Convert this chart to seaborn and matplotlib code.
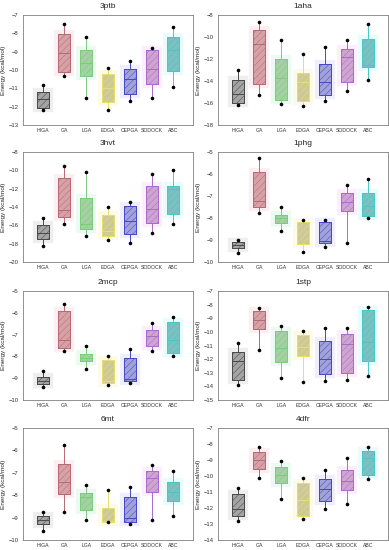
import numpy as np
import pandas as pd
import matplotlib
matplotlib.use("Agg")
import matplotlib.pyplot as plt
import matplotlib.patheffects as pe
import seaborn as sns

sns.set_style("white")
plt.rcParams["font.family"] = ["Liberation Sans", "DejaVu Sans"]
plt.rcParams["hatch.linewidth"] = 0.35

methods = ["HIGA", "GA", "LGA", "EDGA", "CEPGA", "SODOCK", "ABC"]

# ---- 3ptb ----
q1_3ptb = [-12.05, -10.1, -10.3, -11.75, -11.3, -10.75, -10.05]
med_3ptb = [-11.6, -9.05, -9.6, -11.0, -10.5, -9.95, -8.9]
q3_3ptb = [-11.2, -8.05, -8.9, -10.2, -9.95, -8.9, -8.2]
lo_3ptb = [-12.2, -10.3, -11.5, -12.2, -11.7, -11.55, -10.95]
hi_3ptb = [-10.8, -7.5, -8.2, -9.9, -9.5, -8.8, -7.65]

# ---- 1aha ----
q1_1aha = [-16.0, -14.3, -15.7, -15.8, -15.25, -14.05, -12.7]
med_1aha = [-15.2, -10.65, -13.75, -14.1, -14.1, -11.85, -12.55]
q3_1aha = [-13.9, -9.4, -12.0, -13.3, -12.45, -11.1, -10.2]
lo_1aha = [-16.2, -15.25, -16.1, -16.3, -15.8, -14.95, -13.95]
hi_1aha = [-13.0, -8.65, -10.25, -11.5, -10.95, -10.25, -8.85]

# ---- 3hvt ----
q1_3hvt = [-17.45, -15.05, -16.4, -17.15, -16.9, -15.7, -14.75]
med_3hvt = [-16.8, -14.3, -15.8, -16.6, -15.5, -14.2, -12.0]
q3_3hvt = [-15.95, -10.8, -13.0, -14.9, -13.85, -11.7, -11.7]
lo_3hvt = [-18.2, -15.8, -17.2, -17.55, -17.9, -16.8, -15.9]
hi_3hvt = [-15.2, -9.5, -10.15, -14.0, -13.45, -10.4, -9.95]

# ---- 1phg ----
q1_1phg = [-9.38, -7.5, -8.21, -9.2, -9.15, -7.68, -7.9]
med_1phg = [-9.24, -7.23, -8.02, -9.18, -9.05, -7.27, -7.45]
q3_1phg = [-9.08, -5.89, -7.88, -8.18, -8.17, -6.85, -6.85]
lo_1phg = [-9.58, -7.79, -8.59, -9.53, -9.33, -9.14, -7.98]
hi_1phg = [-9.0, -5.27, -7.52, -8.09, -8.09, -6.5, -6.24]

# ---- 2mcp ----
q1_2mcp = [-9.28, -7.6, -8.22, -9.24, -9.13, -7.53, -7.84]
med_2mcp = [-9.13, -7.26, -8.06, -9.15, -9.05, -7.07, -7.23]
q3_2mcp = [-8.96, -5.91, -7.91, -8.17, -8.06, -6.8, -6.42]
lo_2mcp = [-9.39, -7.77, -8.6, -9.31, -9.24, -7.74, -7.99]
hi_2mcp = [-8.66, -5.58, -7.53, -8.0, -7.68, -6.49, -6.19]

# ---- 1stp ----
q1_1stp = [-13.54, -9.76, -12.2, -11.78, -13.12, -13.05, -12.17]
med_1stp = [-12.12, -9.15, -11.22, -11.1, -12.02, -10.9, -10.73]
q3_1stp = [-11.46, -8.46, -9.93, -10.24, -10.66, -10.17, -8.41]
lo_1stp = [-13.93, -11.34, -13.37, -13.68, -13.58, -13.54, -13.24]
hi_1stp = [-10.8, -8.22, -9.59, -9.9, -9.68, -9.68, -8.17]

# ---- 6mt ----
q1_6mt = [-9.3, -7.96, -8.66, -9.18, -9.18, -7.84, -8.28]
med_6mt = [-9.1, -7.42, -8.1, -9.15, -9.03, -7.22, -7.87]
q3_6mt = [-8.93, -6.6, -7.91, -8.55, -8.06, -6.9, -7.39]
lo_6mt = [-9.6, -8.76, -9.12, -9.18, -9.28, -9.1, -8.93]
hi_6mt = [-8.73, -5.78, -7.54, -7.76, -7.63, -6.67, -6.91]

# ---- 4dfr ----
q1_4dfr = [-12.49, -9.57, -10.44, -12.49, -11.59, -10.88, -9.92]
med_4dfr = [-12.07, -8.98, -9.96, -11.49, -10.82, -10.3, -8.88]
q3_4dfr = [-11.13, -8.52, -9.46, -10.44, -10.17, -9.63, -8.42]
lo_4dfr = [-12.8, -10.13, -11.43, -12.7, -12.07, -11.72, -10.19]
hi_4dfr = [-10.76, -8.21, -9.09, -10.13, -9.65, -8.86, -8.17]

panels = [
    ("3ptb", q1_3ptb, med_3ptb, q3_3ptb, lo_3ptb, hi_3ptb, (-13, -7, 1)),
    ("1aha", q1_1aha, med_1aha, q3_1aha, lo_1aha, hi_1aha, (-18, -8, 2)),
    ("3hvt", q1_3hvt, med_3hvt, q3_3hvt, lo_3hvt, hi_3hvt, (-20, -8, 2)),
    ("1phg", q1_1phg, med_1phg, q3_1phg, lo_1phg, hi_1phg, (-10, -5, 1)),
    ("2mcp", q1_2mcp, med_2mcp, q3_2mcp, lo_2mcp, hi_2mcp, (-10, -5, 1)),
    ("1stp", q1_1stp, med_1stp, q3_1stp, lo_1stp, hi_1stp, (-15, -7, 1)),
    ("6mt", q1_6mt, med_6mt, q3_6mt, lo_6mt, hi_6mt, (-10, -5, 1)),
    ("4dfr", q1_4dfr, med_4dfr, q3_4dfr, lo_4dfr, hi_4dfr, (-14, -7, 1)),
]

face_colors = ["#a4a4a4", "#d6a2a8", "#a4d0a4", "#cdc89a", "#a2a2da", "#d0a4d0", "#7cc0c0"]
edge_colors = ["#4a4a4a", "#b86a74", "#7ccc7c", "#e6e070", "#4848c4", "#a86ccc", "#48c8c8"]
hatch_colors = ["#4a4a4a", "#c08890", "#84bc84", "#b4b07c", "#5a5ac4", "#b488b8", "#5eacac"]
glow_colors = ["#eeeeee", "#fdeef1", "#ecfbf2", "#fdfbe8", "#eeeefd", "#fdeefd", "#e8fcfc"]

fig = plt.figure(figsize=(3.89, 5.50), dpi=100)
W, H = 389.0, 550.0
col_x = [23, 218]
ax_w = 170
rows = [(15, 125), (152, 262), (291, 400), (428, 540)]

for i, (name, q1, med, q3, lo, hi, (ymin, ymax, step)) in enumerate(panels):
    r, c = divmod(i, 2)
    top, bot = rows[r]
    ax = fig.add_axes([col_x[c] / W, 1 - bot / H, ax_w / W, (bot - top) / H])

    for k, m in enumerate(methods):
        vals = [lo[k], q1[k], med[k], q3[k], hi[k]]
        df = pd.DataFrame({"method": [m] * 5, "energy": vals})
        sns.boxplot(data=df, x="method", y="energy", order=methods, ax=ax,
                    whis=(0, 100), width=0.55, color=face_colors[k],
                    linecolor=edge_colors[k], linewidth=0.7, saturation=1,
                    showfliers=False, showcaps=False)
        box = ax.patches[-1]
        box.set_facecolor(face_colors[k])
        box.set_edgecolor(edge_colors[k])
        box.set_hatch("/////")
        if hasattr(box, "set_hatchcolor"):
            box.set_hatchcolor(hatch_colors[k])
        box.set_path_effects([pe.withStroke(linewidth=6, foreground=glow_colors[k]),
                              pe.Normal()])

    dots = pd.DataFrame({"method": methods * 2, "energy": list(lo) + list(hi)})
    sns.stripplot(data=dots, x="method", y="energy", order=methods, ax=ax,
                  jitter=False, color="black", size=2.6, zorder=5)

    ax.set_xlim(-0.9, 6.9)
    ax.set_ylim(ymin, ymax)
    ax.set_yticks(np.arange(ymin, ymax + step / 2, step))
    ax.set_title(name, fontsize=6, pad=5)
    ax.set_xlabel("")
    ax.set_ylabel("Energy (kcal/mol)", fontsize=4.6, labelpad=2)
    ax.tick_params(axis="y", labelsize=4.2, length=1.5, width=0.5,
                   pad=1.5, colors="#333333", direction="out")
    ax.tick_params(axis="x", labelsize=3.7, length=0, pad=2.5, colors="#333333")
    for s in ax.spines.values():
        s.set_color("#808080")
        s.set_linewidth(0.6)

fig.savefig("out.png", dpi=100)
